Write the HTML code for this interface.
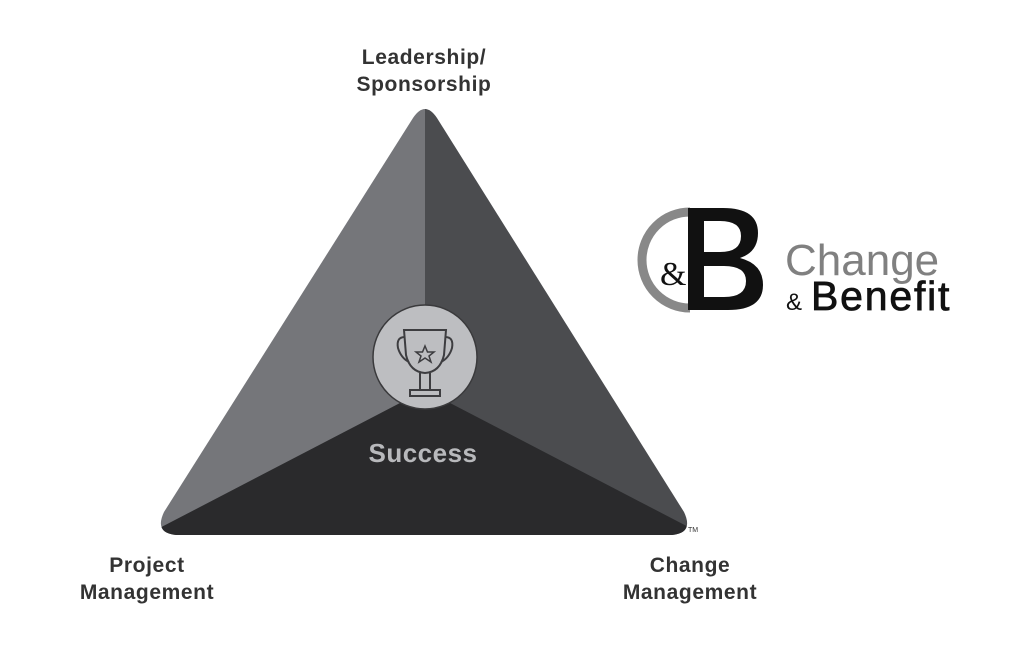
<!DOCTYPE html>
<html><head><style>
body{margin:0;background:#fff;width:1024px;height:652px;overflow:hidden;font-family:"Liberation Sans",sans-serif}
.l{position:absolute;font-weight:bold;color:#333;font-size:21px;letter-spacing:0.6px;text-align:center;line-height:27px}
</style></head><body>
<svg width="1024" height="652" style="position:absolute;left:0;top:0">
<defs><clipPath id="t"><path d="M413,118 Q425,100 437,118 L684,512 Q694,533 672,535 L176,535 Q154,533 164,512 Z"/></clipPath></defs>
<g clip-path="url(#t)">
<rect x="150" y="100" width="276" height="440" fill="#75767a"/>
<rect x="425" y="100" width="280" height="440" fill="#4b4c4f"/>
<polygon points="150,533 425,390 700,533 700,545 150,545" fill="#2a2a2c"/>
</g>
<circle cx="425" cy="357" r="52" fill="#bdbec1" stroke="#3a3a3c" stroke-width="1.5"/>
<g fill="none" stroke="#3d3d40" stroke-width="2">
<path d="M404,330 L446,330 L444,355 Q440,372 425,373 Q410,372 406,355 Z"/>
<path d="M405,337 Q396,337 398,348 Q401,358 409,362"/>
<path d="M445,337 Q454,337 452,348 Q449,358 441,362"/>
<path d="M420,373 L420,390 M430,373 L430,390"/>
<rect x="410" y="390" width="30" height="6"/>
<polygon points="425,346 427.5,352 434,352 429,356 431,362 425,358 419,362 421,356 416,352 422.5,352" stroke-width="1.5"/>
</g>
<text x="423" y="462" text-anchor="middle" font-family="Liberation Sans" font-weight="bold" font-size="26" letter-spacing="0.5" fill="#b8b9bc">Success</text>
<text x="688" y="532" font-size="7" fill="#333" font-family="Liberation Sans">TM</text>
<path d="M690,212 A48,48 0 0 0 690,308" fill="none" stroke="#888" stroke-width="9"/>
<path d="M688,208 L723,208 Q758,208 758,233 Q758,252 740,258 Q763,264 763,285 Q763,310 728,310 L688,310 Z M704,221 L704,252 L720,252 Q741,252 741,236 Q741,221 720,221 Z M704,266 L704,297 L724,297 Q746,297 746,281 Q746,266 724,266 Z" fill="#111" fill-rule="evenodd"/>
<text x="660" y="285" font-family="Liberation Serif" font-size="34" fill="#111">&amp;</text>
<text x="785" y="275" font-family="Liberation Sans" font-size="44" fill="#808080">Change</text>
<text x="786" y="310" font-family="Liberation Sans" font-size="24" fill="#111">&amp;</text>
<text x="811" y="310" font-family="Liberation Sans" font-size="41" letter-spacing="1.8" stroke="#111" stroke-width="0.8" fill="#111">Benefit</text>
</svg>
<div class="l" style="left:314px;top:44px;width:220px">Leadership/<br>Sponsorship</div>
<div class="l" style="left:37px;top:552px;width:220px">Project<br>Management</div>
<div class="l" style="left:580px;top:552px;width:220px">Change<br>Management</div>
</body></html>
